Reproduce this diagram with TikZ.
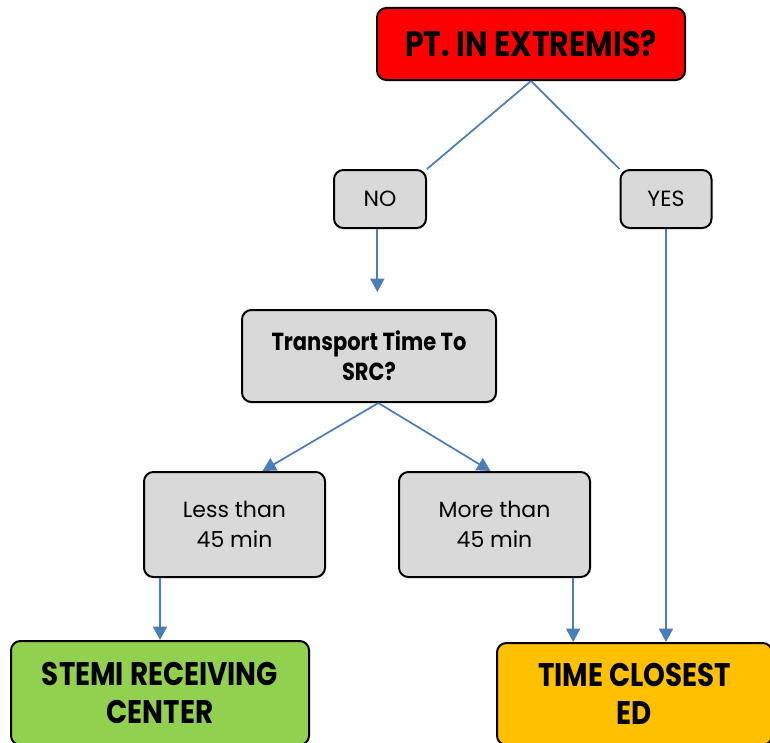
\documentclass[tikz,border=0pt]{standalone}
\usepackage{fontspec}
\setmainfont{Poppins}
\newfontfamily\condfont[FakeStretch=0.85]{Poppins}
\usetikzlibrary{arrows.meta}

\definecolor{linkblue}{HTML}{4A7EBB}
\definecolor{boxgray}{HTML}{D9D9D9}
\definecolor{alarmred}{HTML}{FF0000}
\definecolor{srcgreen}{HTML}{92D050}
\definecolor{edorange}{HTML}{FFC000}

\begin{document}
\begin{tikzpicture}[x=0.75pt,y=-0.75pt,
  box/.style={draw=black, line width=1.5pt, rounded corners=7pt, fill=boxgray,
    align=center, inner sep=0pt},
  bigtxt/.style={font=\condfont\bfseries\fontsize{24.5}{28}\selectfont},
  midtxt/.style={font=\condfont\bfseries\fontsize{18.5}{22.5}\selectfont},
  thintxt/.style={font=\fontsize{16.5}{22}\selectfont},
  link/.style={draw=linkblue, line width=1.3pt},
  arr/.style={link, -{Triangle[width=10.5pt,length=10pt]}}]
\useasboundingbox (0,0) rectangle (770,742);
% decision boxes
\node[box, fill=alarmred, minimum width=231pt, minimum height=54pt,
  font=\condfont\bfseries\fontsize{26.5}{30}\selectfont] (extremis) at (531,44) {PT. IN EXTREMIS?};
\node[box, thintxt, minimum width=69pt, minimum height=43.5pt] (no) at (380,199) {NO};
\node[box, thintxt, minimum width=68.25pt, minimum height=43.5pt] (yes) at (666,199) {YES};
\node[box, midtxt, minimum width=190.5pt, minimum height=69pt] (transport) at (369,356) {Transport Time To\\SRC?};
\node[box, thintxt, minimum width=135.75pt, minimum height=78.75pt] (less) at (234.5,524.5) {Less than\\45 min};
\node[box, thintxt, minimum width=143.25pt, minimum height=78.75pt] (more) at (494.5,524.5) {More than\\45 min};
% destinations
\node[box, bigtxt, fill=srcgreen, minimum width=223.5pt, minimum height=78pt] (src) at (160,693) {STEMI RECEIVING\\CENTER};
\node[box, bigtxt, fill=edorange, minimum width=206.25pt, minimum height=76.5pt] (closest) at (634.5,694) {TIME CLOSEST\\ED};
% connectors
\draw[link] (extremis.south) -- (no.north east);
\draw[link] (extremis.south) -- (yes.north west);
\draw[arr, shorten >=12.75pt] ([xshift=-2pt]no.south) -- ([xshift=-2pt]no.south |- transport.north);
\draw[arr] ([xshift=7pt]transport.south) -- ([xshift=21pt]less.north);
\draw[arr] ([xshift=7pt]transport.south) -- ([xshift=-3pt]more.north);
\draw[arr] (src.north |- less.south) -- (src.north);
\draw[arr] ([xshift=59pt]more.south) -- ([xshift=59pt]more.south |- closest.north);
\draw[arr] (yes.south) -- (yes.south |- closest.north);
\end{tikzpicture}
\end{document}
